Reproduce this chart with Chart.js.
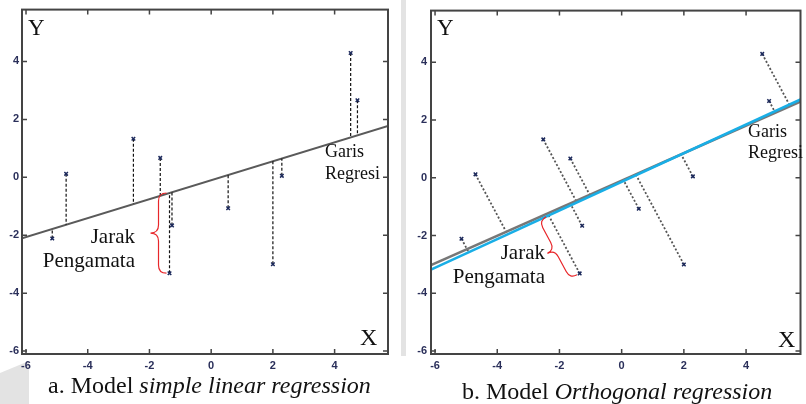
<!DOCTYPE html>
<html><head><meta charset="utf-8">
<script src="https://cdn.jsdelivr.net/npm/chart.js@4"></script>
<style>
body{margin:0;width:806px;height:404px;background:#fff;position:relative;overflow:hidden;font-family:"Liberation Serif","Times New Roman",serif;}
canvas{position:absolute;top:0;}
#c1{left:0;}
#c2{left:400px;}
.t{position:absolute;white-space:nowrap;color:#111;line-height:1;}
.r{text-align:right;}
.deco{position:absolute;background:#e3e3e3;}
</style></head><body>
<div class="deco" style="left:401px;top:0;width:5px;height:356px;"></div>
<div class="deco" style="left:0;top:361px;width:29px;height:43px;clip-path:polygon(0 28%,100% 0,100% 100%,0 100%);"></div>
<canvas id="c1"></canvas>
<canvas id="c2"></canvas>

<div class="t" style="left:28px;top:16px;font-size:23px;">Y</div>
<div class="t" style="left:360px;top:325px;font-size:24px;">X</div>
<div class="t" style="left:325px;top:142px;font-size:18px;">Garis</div>
<div class="t" style="left:325px;top:164px;font-size:18px;">Regresi</div>
<div class="t r" style="left:20px;width:115px;top:226px;font-size:21px;">Jarak</div>
<div class="t r" style="left:20px;width:115px;top:250px;font-size:21px;">Pengamata</div>
<div class="t" style="left:48px;top:373px;font-size:24px;">a. Model <i>simple linear regression</i></div>

<div class="t" style="left:437px;top:16px;font-size:23px;">Y</div>
<div class="t" style="left:778px;top:327px;font-size:24px;">X</div>
<div class="t" style="left:748px;top:122px;font-size:18px;">Garis</div>
<div class="t" style="left:748px;top:143px;font-size:18px;">Regresi</div>
<div class="t r" style="left:430px;width:115px;top:242px;font-size:21px;">Jarak</div>
<div class="t r" style="left:430px;width:115px;top:266px;font-size:21px;">Pengamata</div>
<div class="t" style="left:462px;top:379px;font-size:24px;">b. Model <i>Orthogonal regression</i></div>

<script>
// ---- data ----
const obsX = [-5.15, -4.70, -2.52, -1.65, -1.35, -1.27, 0.55, 2.00, 2.29, 4.52, 4.74];
const obsY = [-2.11, 0.12, 1.33, 0.67, -3.31, -1.66, -1.07, -3.00, 0.05, 4.29, 2.66];
const xTickValues = [-6, -4, -2, 0, 2, 4];
const yTickValues = [-6, -4, -2, 0, 2, 4];
// simple linear regression line (panel a)
const olsIntercept = -0.10, olsSlope = 0.327;
// orthogonal regression lines (panel b): blue fit and the grey line under it
const orthIntercept = -0.14, orthSlope = 0.496;
const greyIntercept = -0.10, greySlope = 0.477;
// axis ranges
const xRangeA = [-6.13, 5.73], yRange = [-6.10, 5.79];
const xRangeB = [-6.13, 5.75];
const bracedIndex = 4;

const pts = obsX.map((x, i) => ({x, y: obsY[i]}));
const lineOf = (a, b, r) => r.map(x => ({x, y: a + b * x}));
const vFoot = p => ({x: p.x, y: olsIntercept + olsSlope * p.x});
const oFoot = p => {
  const t = (p.x + orthSlope * (p.y - orthIntercept)) / (1 + orthSlope * orthSlope);
  return {x: t, y: orthIntercept + orthSlope * t};
};
const segs = f => pts.flatMap(p => [p, f(p), {x: p.x, y: null}]);

const tickFont = {family: '"Liberation Sans", Arial, sans-serif', size: 11, weight: 'bold'};
const tickColor = '#2a2f5a';

function scalesFor(xr, yWidth, yPad) {
  return {
    x: {type: 'linear', min: xr[0], max: xr[1],
        afterBuildTicks: s => { s.ticks = xTickValues.map(v => ({value: v})); },
        afterFit: s => { s.height = 21; },
        grid: {display: false, drawTicks: false}, border: {display: false},
        ticks: {font: tickFont, color: tickColor, padding: 5, maxRotation: 0, autoSkip: false}},
    y: {type: 'linear', min: yRange[0], max: yRange[1],
        afterBuildTicks: s => { s.ticks = yTickValues.map(v => ({value: v})); },
        afterFit: s => { s.width = yWidth; },
        grid: {display: false, drawTicks: false}, border: {display: false},
        ticks: {font: tickFont, color: tickColor, padding: yPad, autoSkip: false}}
  };
}

const framePlugin = {
  id: 'frame',
  afterDraw(chart) {
    const {ctx, chartArea: a, scales: {x, y}} = chart;
    ctx.save();
    ctx.strokeStyle = '#444';
    ctx.lineWidth = 2;
    ctx.strokeRect(a.left, a.top, a.right - a.left, a.bottom - a.top);
    ctx.lineWidth = 1.5;
    ctx.beginPath();
    const L = 5;
    xTickValues.forEach(v => {
      const px = x.getPixelForValue(v);
      ctx.moveTo(px, a.bottom); ctx.lineTo(px, a.bottom - L);
      ctx.moveTo(px, a.top); ctx.lineTo(px, a.top + L);
    });
    yTickValues.forEach(v => {
      const py = y.getPixelForValue(v);
      ctx.moveTo(a.left, py); ctx.lineTo(a.left + L, py);
      ctx.moveTo(a.right, py); ctx.lineTo(a.right - L, py);
    });
    ctx.stroke();
    ctx.restore();
  }
};

function drawBrace(ctx, p1, p2, off, h) {
  const dx = p2.x - p1.x, dy = p2.y - p1.y, len = Math.hypot(dx, dy);
  const u = {x: dx / len, y: dy / len};
  let n = {x: u.y, y: -u.x};
  if (n.x > 0) n = {x: -n.x, y: -n.y};
  const P = (s, t) => [p1.x + u.x * s + n.x * (t + off), p1.y + u.y * s + n.y * (t + off)];
  const r = Math.min(8, len / 4), m = len / 2;
  ctx.beginPath();
  ctx.moveTo(...P(0, 0));
  ctx.quadraticCurveTo(...P(0, h), ...P(r, h));
  ctx.lineTo(...P(m - r, h));
  ctx.quadraticCurveTo(...P(m, h), ...P(m, 2 * h));
  ctx.quadraticCurveTo(...P(m, h), ...P(m + r, h));
  ctx.lineTo(...P(len - r, h));
  ctx.quadraticCurveTo(...P(len, h), ...P(len, 0));
  ctx.stroke();
}

function bracePlugin(footFn) {
  return {
    id: 'brace',
    afterDraw(chart) {
      const {ctx, scales: {x, y}} = chart;
      const p = pts[bracedIndex], f = footFn(p);
      const a = {x: x.getPixelForValue(f.x), y: y.getPixelForValue(f.y)};
      const b = {x: x.getPixelForValue(p.x), y: y.getPixelForValue(p.y)};
      ctx.save();
      ctx.strokeStyle = '#e8262a';
      ctx.lineWidth = 1.2;
      drawBrace(ctx, a, b, 3, 8);
      ctx.restore();
    }
  };
}

const common = {
  responsive: false, animation: false, events: [],
  plugins: {legend: {display: false}, tooltip: {enabled: false}},
};

function setup(id, w, h) {
  const c = document.getElementById(id);
  c.width = w; c.height = h; c.style.width = w + 'px'; c.style.height = h + 'px';
  return c;
}

new Chart(setup('c1', 400, 375), {
  type: 'scatter',
  data: {datasets: [
    {type: 'scatter', data: pts, pointStyle: 'crossRot', pointRadius: 2.5, borderColor: '#1d2a5c', borderWidth: 1.5, order: 0},
    {type: 'line', data: segs(vFoot), borderColor: '#111', borderWidth: 1.2, borderDash: [3, 2], pointRadius: 0, spanGaps: false, order: 1},
    {type: 'line', data: lineOf(olsIntercept, olsSlope, xRangeA), borderColor: '#5a5a5a', borderWidth: 2, pointRadius: 0, order: 2}
  ]},
  options: {...common, layout: {padding: {left: 0, right: 12, top: 9, bottom: 0}}, scales: scalesFor(xRangeA, 22, 3)},
  plugins: [framePlugin, bracePlugin(vFoot)]
});

new Chart(setup('c2', 406, 375), {
  type: 'scatter',
  data: {datasets: [
    {type: 'scatter', data: pts, pointStyle: 'crossRot', pointRadius: 2.5, borderColor: '#1d2a5c', borderWidth: 1.5, order: 0},
    {type: 'line', data: segs(oFoot), borderColor: '#555', borderWidth: 1.8, borderDash: [2, 2], pointRadius: 0, spanGaps: false, order: 3},
    {type: 'line', data: lineOf(orthIntercept, orthSlope, xRangeB), borderColor: '#19aee6', borderWidth: 2.5, pointRadius: 0, order: 1},
    {type: 'line', data: lineOf(greyIntercept, greySlope, xRangeB), borderColor: '#777', borderWidth: 2.5, pointRadius: 0, order: 2}
  ]},
  options: {...common, layout: {padding: {left: 0, right: 2, top: 9, bottom: 0}}, scales: scalesFor(xRangeB, 31, 4)},
  plugins: [framePlugin, bracePlugin(oFoot)]
});
</script>
</body></html>
